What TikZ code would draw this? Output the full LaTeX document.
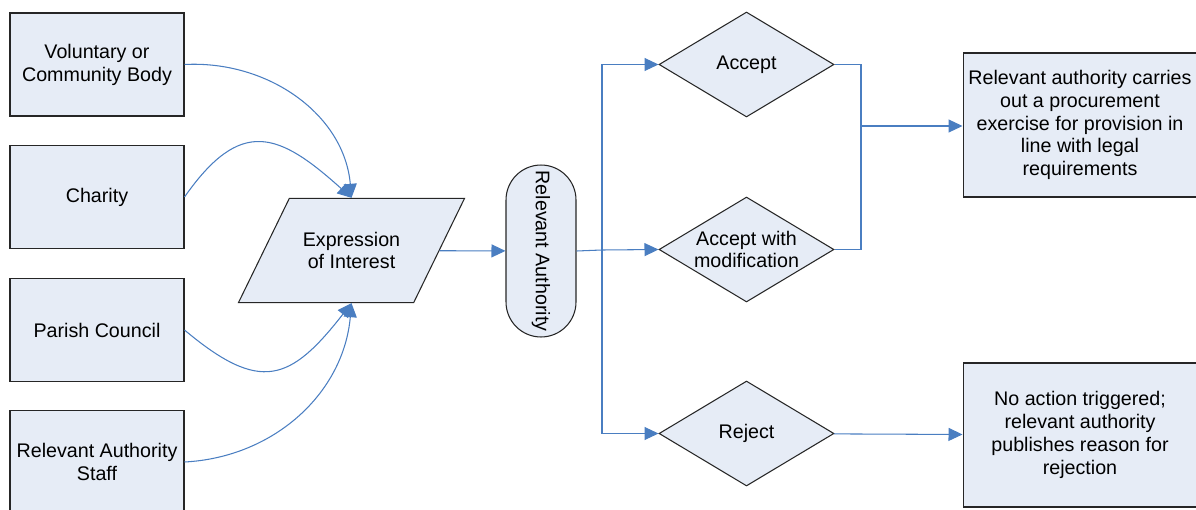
\documentclass[tikz,border=0pt]{standalone}
\usepackage{fontspec}
\setmainfont{Liberation Sans}
\usetikzlibrary{arrows.meta,shapes.geometric}
\definecolor{boxfill}{RGB}{230,236,246}
\definecolor{flowblue}{RGB}{74,126,193}

\begin{document}
\begin{tikzpicture}[
    x=0.02cm, y=-0.02cm,
    every node/.style={font=\fontsize{11.2}{13}\selectfont},
    box/.style={rectangle, draw=black!85, fill=boxfill, line width=0.6pt, minimum width=3.48cm, minimum height=2.06cm, align=center, inner sep=0pt},
    outcome/.style={box, minimum width=4.68cm, minimum height=2.88cm},
    io/.style={trapezium, trapezium left angle=64, trapezium right angle=116, draw=black!85, fill=boxfill, line width=0.6pt, align=center, inner xsep=0.27cm, inner ysep=0.67cm},
    pill/.style={rectangle, rounded corners=0.7cm, draw=black!85, fill=boxfill, line width=0.6pt, minimum width=1.4cm, minimum height=3.44cm, inner sep=0pt},
    decision/.style={diamond, aspect=1.667, draw=black!85, fill=boxfill, line width=0.6pt, minimum width=3.5cm, minimum height=2.1cm, align=center, inner sep=0pt},
    line/.style={draw=flowblue, line width=0.6pt},
    arrow/.style={line, -{Triangle[length=0.28cm, width=0.26cm]}}
]
\clip (0,0) rectangle (1196,510);

% who can express an interest
\node[box] (vcb) at (97,64.5) {Voluntary or\\Community Body};
\node[box] (charity) at (97,197) {Charity};
\node[box] (parish) at (97,330) {Parish Council};
\node[box] (staff) at (97,462) {Relevant Authority\\Staff};

\node[io] (expr) at (351.5,250.5) {Expression\\of Interest};
\node[pill] (auth) at (541,251) {\rotatebox{-90}{Relevant Authority}};

% decisions
\node[decision] (accept) at (746.5,64.5) {Accept};
\node[decision] (modify) at (746.5,249.5) {Accept with\\modification};
\node[decision] (reject) at (746.5,433.5) {Reject};

% outcomes
\node[outcome] (procure) at (1080,125) {Relevant authority carries\\out a procurement\\exercise for provision in\\line with legal\\requirements};
\node[outcome] (noaction) at (1080,435) {No action triggered;\\relevant authority\\publishes reason for\\rejection};

\coordinate (split) at (602,250);
\coordinate (merge) at (861,126);

\draw[arrow] (vcb.east) to[out=3, in=95] (expr.north);
\draw[arrow] (charity.east) to[out=55, in=138, looseness=1.5] (expr.north);
\draw[arrow] (parish.east) to[out=-40, in=-128, looseness=1.5] (expr.south);
\draw[arrow] (staff.east) to[out=3, in=-95] (expr.south);

\draw[arrow] (expr) -- (auth);
\draw[line] (auth.east) -- (split);
\draw[arrow] (split) |- (accept.west);
\draw[arrow] (split) -- (modify.west);
\draw[arrow] (split) |- (reject.west);

\draw[line] (accept.east) -| (merge) |- (modify.east);
\draw[arrow] (merge) -- (merge -| procure.west);
\draw[arrow] (reject) -- (noaction);
\end{tikzpicture}
\end{document}
